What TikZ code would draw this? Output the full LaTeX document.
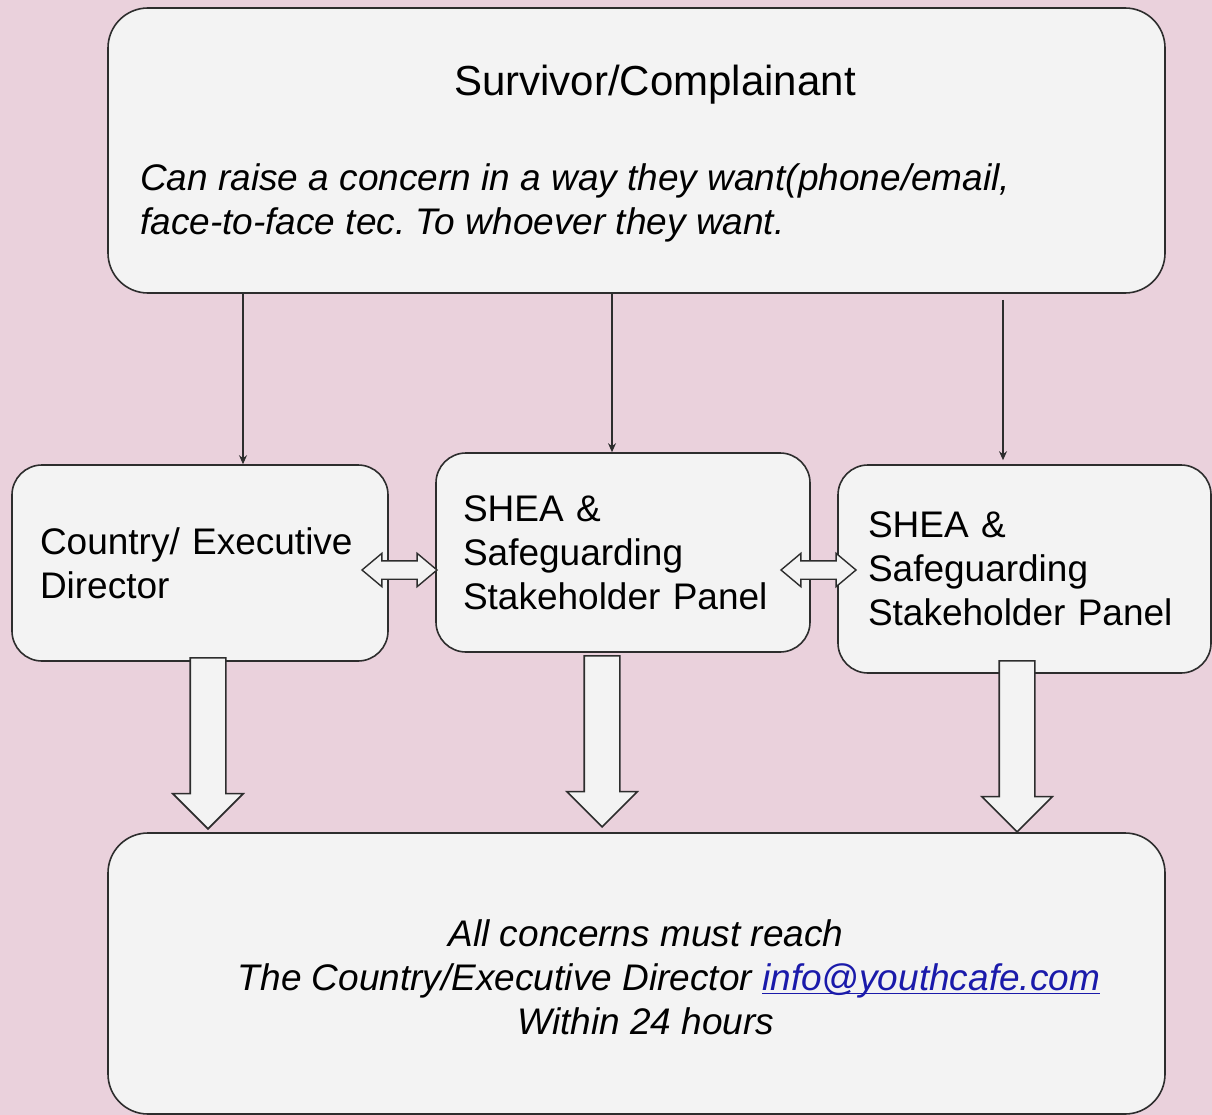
\documentclass[tikz,border=0pt]{standalone}
\usepackage{fontspec}
\setmainfont{Liberation Sans}
\usepackage{xcolor}
\usetikzlibrary{calc, arrows.meta, shapes.arrows}

\definecolor{bgpink}{RGB}{234,209,220}
\definecolor{boxgray}{RGB}{243,243,243}
\definecolor{edgegray}{RGB}{45,45,45}
\definecolor{linkblue}{RGB}{26,26,170}
\newcommand{\linkunder}[1]{\setbox0\hbox{#1}\rlap{\rule[-4pt]{\wd0}{1.4pt}}\box0}
\frenchspacing

\begin{document}
\begin{tikzpicture}[x=1pt, y=-1pt,
	box/.style={draw=edgegray, line width=1.6pt, fill=boxgray, inner sep=0pt},
	sidebox/.style={box, rounded corners=30pt, align=left, minimum height=#1, font=\fontsize{37}{44}\selectfont},
	thinarrow/.style={draw=edgegray, line width=1.2pt, -{Stealth[length=9pt, width=8pt]}},
	fatarrow/.style={single arrow, draw=edgegray, line width=1.6pt, fill=boxgray, minimum height=171pt, inner xsep=0pt, inner ysep=17pt, single arrow head extend=17.5pt, single arrow tip angle=90, rotate=-90, anchor=tip},
	twoway/.style={double arrow, draw=edgegray, line width=1.4pt, fill=boxgray, minimum height=75pt, inner xsep=0pt, inner ysep=8.5pt, double arrow head extend=7.5pt, double arrow tip angle=80},
	bigtext/.style={font=\fontsize{37}{44}\selectfont\itshape, inner sep=0pt}]

	\def\W{1212};
	\def\H{1115};

	\fill[bgpink] (0,0) rectangle (\W,\H);
	\useasboundingbox (0,0) rectangle (\W,\H);

	\begin{scope}
		\clip (0,0) rectangle (\W,\H);

		% boxes
		\node[box, rounded corners=40pt, minimum width=1057pt, minimum height=285pt] (complainant) at (636.5,150.5) {};
		\node[font=\fontsize{42}{50}\selectfont, inner sep=0pt] (complainanttitle) at (655,85) {Survivor/Complainant};
		\node[bigtext, anchor=west, align=left] (complainanttext) at (140,203) {Can raise a concern in a way they want(phone/email,\\face-to-face tec. To whoever they want.};

		\node[sidebox=196pt, inner xsep=28pt, text width=320pt] (director) at (200,563) {Country/ Executive\\Director};
		\node[sidebox=199pt, inner xsep=27pt, text width=320pt] (panelA) at (623,552.5) {SHEA \&\\Safeguarding\\Stakeholder Panel};
		\node[sidebox=208pt, inner xsep=30pt, text width=313pt] (panelB) at (1024.5,569) {SHEA \&\\Safeguarding\\Stakeholder Panel};

		\node[box, rounded corners=40pt, minimum width=1057pt, minimum height=281pt] (reach) at (636.5,973.5) {};
		\node[bigtext, align=center] (reachtext) at (646,977) {All concerns must reach\\\hspace*{46pt}The Country/Executive Director \textcolor{linkblue}{\linkunder{info@youthcafe.com}}\\Within 24 hours};

		% thin arrows
		\coordinate (xa) at (243,0);
		\coordinate (xb) at (612,0);
		\coordinate (xc) at (1003,0);
		\draw[thinarrow] (xa |- complainant.south) -- (xa |- director.north);
		\draw[thinarrow] (xb |- complainant.south) -- (xb |- panelA.north);
		\draw[thinarrow] ($(xc |- complainant.south)+(0,6)$) -- ($(xc |- panelB.north)+(0,-4)$);

		% two way arrows
		\node[twoway] (linkA) at (399.5,570) {};
		\node[twoway] (linkB) at (818.5,570) {};

		% fat arrows
		\node[fatarrow] (downA) at (208,830) {};
		\node[fatarrow] (downB) at (602,828) {};
		\node[fatarrow] (downC) at (1017,833) {};
	\end{scope}
\end{tikzpicture}
\end{document}
